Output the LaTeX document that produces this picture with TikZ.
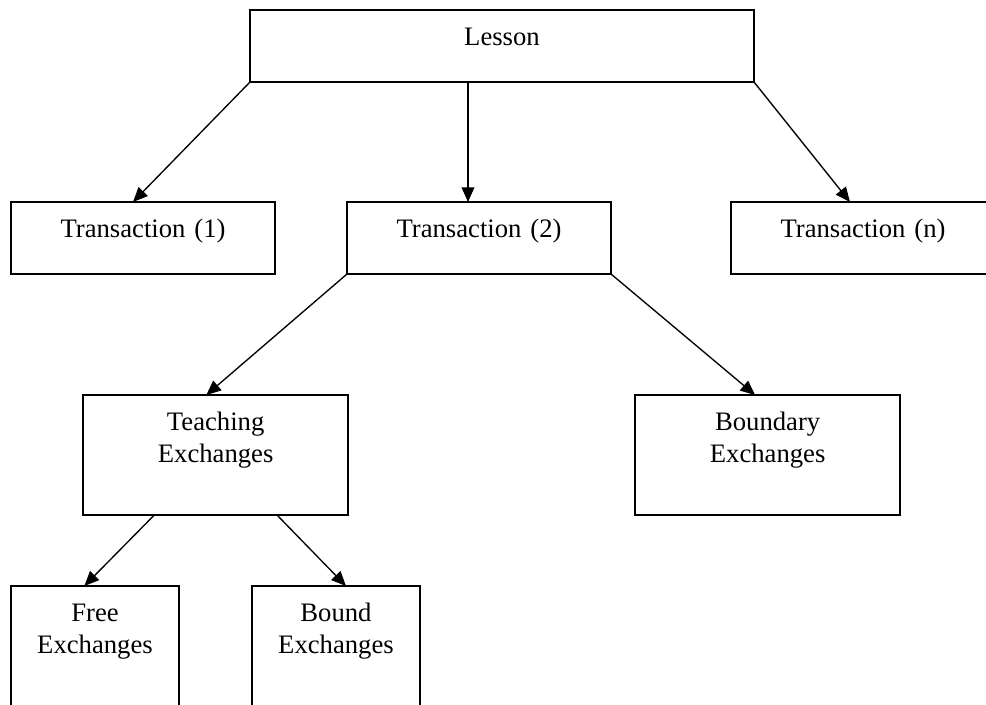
\documentclass[tikz,border=0pt]{standalone}
\usepackage{fontspec}
\setmainfont{Liberation Serif}
\usetikzlibrary{arrows.meta}

\begin{document}
\begin{tikzpicture}[x=0.75pt, y=-0.75pt,
  box/.style={draw, line width=1.4pt, inner sep=0pt, outer sep=0pt, anchor=north west,
    align=center, font=\fontsize{20pt}{24pt}\selectfont, text height=26.25pt},
  low/.style={text depth=27.75pt},
  tall/.style={text depth=63.75pt},
  link/.style={arrows=-{Triangle[length=11pt, width=9.5pt]}, line width=1pt}]
\useasboundingbox (0,0) rectangle (986,704);
\clip (0,0) rectangle (986,704);
\node (lesson)[box, low, text width=378pt] at (250,10) {Lesson};
\node (t1)[box, low, text width=198pt] at (11,202) {Transaction (1)};
\node (t2)[box, low, text width=198pt] at (347,202) {Transaction (2)};
\node (tn)[box, low, text width=198pt] at (731,202) {Transaction (n)};
\node (teach)[box, tall, text width=199pt] at (83,395) {Teaching\\Exchanges};
\node (bound)[box, tall, text width=199pt] at (635,395) {Boundary\\Exchanges};
\node (free)[box, tall, text width=126pt] at (11,586) {Free\\Exchanges};
\node (bnd)[box, tall, text width=126pt] at (252,586) {Bound\\Exchanges};
\draw[link] (lesson.south west) -- ([xshift=-7.5pt]t1.north);
\draw[link] ([xshift=-25.5pt]lesson.south) -- ([xshift=-8.25pt]t2.north);
\draw[link] (lesson.south east) -- ([xshift=-9.75pt]tn.north);
\draw[link] (t2.south west) -- ([xshift=-7pt]teach.north);
\draw[link] (t2.south east) -- ([xshift=-9.4pt]bound.north);
\draw[link] ([xshift=-46pt]teach.south) -- ([xshift=-8pt]free.north);
\draw[link] ([xshift=46pt]teach.south) -- ([xshift=7.5pt]bnd.north);
\end{tikzpicture}
\end{document}
